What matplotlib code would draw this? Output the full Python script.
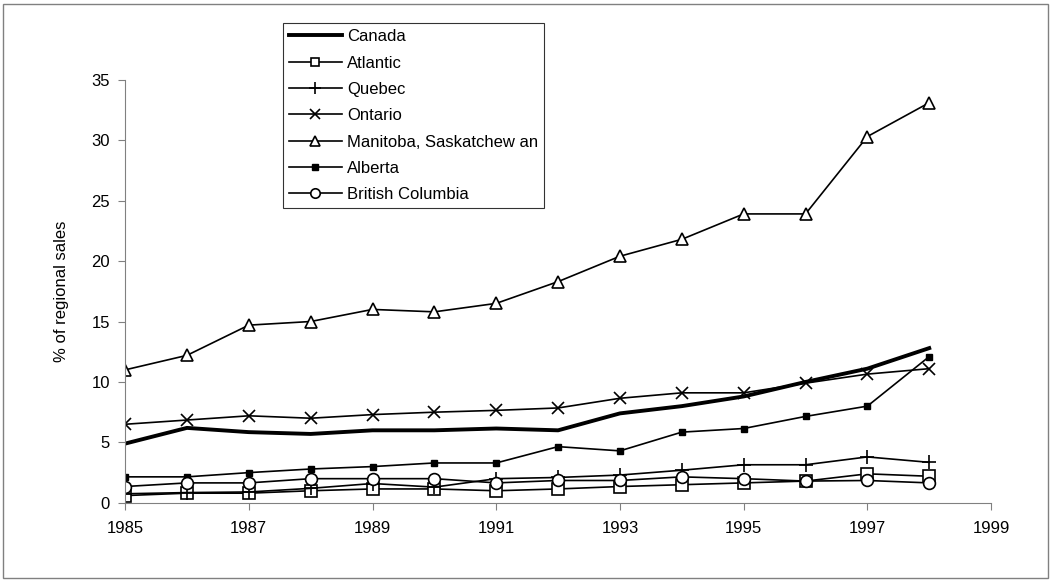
import matplotlib.pyplot as plt
from matplotlib.patches import Rectangle

plt.rcParams['font.family'] = ['Liberation Sans', 'DejaVu Sans']

years = list(range(1985, 1999))

canada = [4.9, 6.2, 5.85, 5.7, 6.0, 6.0, 6.15, 6.0, 7.4, 8.0, 8.8, 10.0, 11.1, 12.8]
atlantic = [0.6, 0.8, 0.8, 1.0, 1.15, 1.15, 1.0, 1.15, 1.35, 1.5, 1.65, 1.8, 2.4, 2.2]
quebec = [0.75, 0.85, 0.9, 1.2, 1.6, 1.3, 2.0, 2.1, 2.3, 2.7, 3.15, 3.15, 3.8, 3.35]
ontario = [6.5, 6.85, 7.2, 7.0, 7.3, 7.5, 7.65, 7.85, 8.65, 9.1, 9.1, 9.9, 10.65, 11.1]
prairies = [11.0, 12.2, 14.7, 15.0, 16.0, 15.8, 16.5, 18.3, 20.4, 21.8, 23.9, 23.9, 30.3, 33.1]
alberta = [2.15, 2.15, 2.5, 2.8, 3.0, 3.3, 3.3, 4.65, 4.3, 5.85, 6.15, 7.15, 8.0, 12.1]
bc = [1.35, 1.65, 1.65, 2.0, 2.0, 2.0, 1.65, 1.85, 1.85, 2.15, 2.0, 1.8, 1.85, 1.65]

labels = ['Canada', 'Atlantic', 'Quebec', 'Ontario',
          'Manitoba, Saskatchew an', 'Alberta', 'British Columbia']

fig = plt.figure(figsize=(10.51, 5.82), dpi=100)
ax = fig.add_axes([0.119, 0.136, 0.824, 0.727])

thin = 1.2
ax.plot(years, canada, color='black', lw=2.8, label=labels[0])
ax.plot(years, atlantic, color='black', lw=thin, marker='s', ms=8,
        mfc='white', mec='black', mew=1.2, label=labels[1])
ax.plot(years, quebec, color='black', lw=thin, marker='+', ms=10,
        mew=1.2, label=labels[2])
ax.plot(years, ontario, color='black', lw=thin, marker='x', ms=9,
        mew=1.2, label=labels[3])
ax.plot(years, prairies, color='black', lw=thin, marker='^', ms=9,
        mfc='white', mec='black', mew=1.2, label=labels[4])
ax.plot(years, alberta, color='black', lw=thin, marker='s', ms=5,
        mfc='black', mec='black', label=labels[5])
ax.plot(years, bc, color='black', lw=thin, marker='o', ms=8.5,
        mfc='white', mec='black', mew=1.2, label=labels[6])

ax.set_xlim(1985, 1999)
ax.set_ylim(0, 35)
ax.set_xticks(range(1985, 2000, 2))
ax.set_yticks(range(0, 36, 5))
ax.tick_params(labelsize=12, length=5, color='#808080', pad=6)
ax.tick_params(axis='x', pad=8)
for s in ['top', 'right']:
    ax.spines[s].set_visible(False)
for s in ['left', 'bottom']:
    ax.spines[s].set_color('#808080')
ax.set_ylabel('% of regional sales', fontsize=12, labelpad=16)

leg = ax.legend(loc='upper left', bbox_to_anchor=(0.182, 1.133), fontsize=12,
                frameon=True, fancybox=False, edgecolor='black',
                handlelength=3.2, handletextpad=0.3, labelspacing=0.68,
                borderpad=0.35, borderaxespad=0, markerscale=0.8)
leg.get_frame().set_linewidth(0.8)

fig.patches.append(Rectangle((3 / 1051, 4 / 582), 1045 / 1051, 574 / 582,
                             transform=fig.transFigure, fill=False,
                             edgecolor='#808080', lw=1))

fig.savefig('out.png', dpi=100)
